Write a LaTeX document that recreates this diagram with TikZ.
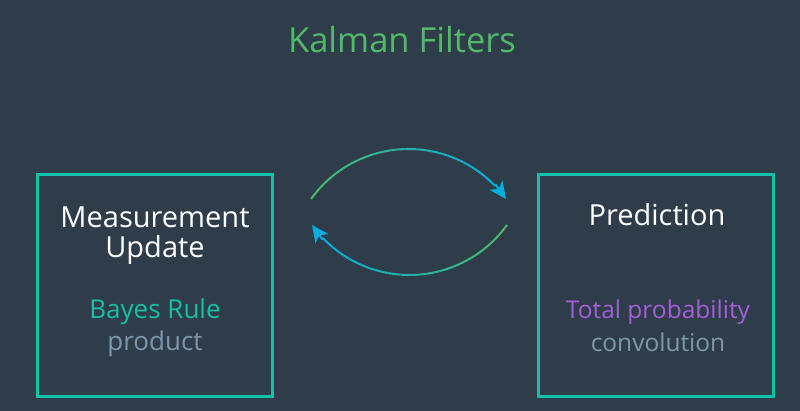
\documentclass[tikz,border=0pt]{standalone}
\usepackage{fontspec}
\setmainfont{Open Sans}
\usetikzlibrary{arrows.meta,calc}
\definecolor{bg}{HTML}{2E3D49}
\definecolor{boxteal}{HTML}{12C2A8}
\definecolor{titlegreen}{HTML}{52B86A}
\definecolor{arcgreen}{HTML}{4EBA68}
\definecolor{arcblue}{HTML}{05AEDF}
\definecolor{ruleteal}{HTML}{15C0A6}
\definecolor{rulepurple}{HTML}{A45EDB}
\definecolor{subgray}{HTML}{7D97AD}
\tikzset{
  box/.style={draw=boxteal, line width=3pt, minimum width=235pt, minimum height=222pt, inner sep=0pt},
  bigtext/.style={text=white, font=\fontsize{29}{35}\selectfont, anchor=base},
  midtext/.style={font=\fontsize{26}{31}\selectfont, anchor=base},
  midtextb/.style={font=\fontsize{24.5}{29}\selectfont, anchor=base},
  arcline/.style={line width=2pt},
  arrowtip/.style={line width=2pt, arcblue, -{Stealth[length=17pt,width=16pt,inset=4.5pt]}}
}
\begin{document}
\begin{tikzpicture}[x=1pt,y=-1pt]
\fill[bg] (0,0) rectangle (800,411);
\useasboundingbox (0,0) rectangle (800,411);

\node[text=titlegreen, font=\fontsize{34.5}{40}\selectfont, anchor=base] (title) at (402,53) {Kalman Filters};

\node[box] (mu) at (154.5,285.5) {};
\node[box] (pr) at (655.5,285.5) {};

\node[bigtext] (mu1) at (155,228) {Measurement};
\node[bigtext] (mu2) at (155,258) {Update};
\node[midtext, text=ruleteal] (bayes) at (155,319) {Bayes Rule};
\node[midtext, text=subgray] (prod) at (155,350) {product};

\node[bigtext] (pr1) at (657,226) {Prediction};
\node[midtextb, text=rulepurple] (tot) at (658,319) {Total probability};
\node[midtextb, text=subgray] (conv) at (658,352) {convolution};

% top arc: measurement -> prediction
\coordinate (t1e) at ({408.5+120*cos(35.7)},{269-120*sin(35.7)});
\coordinate (t1b) at ($(t1e)+(-10.5,-14.6)$);
\foreach \i in {0,...,47}{
  \pgfmathsetmacro\a{144.3-100.5*\i/48}
  \pgfmathsetmacro\b{144.3-100.5*(\i+1)/48}
  \pgfmathsetmacro\p{100*\i/47}
  \draw[arcline, color=arcblue!\p!arcgreen] ({408.5+120*cos(\a)},{269-120*sin(\a)}) -- ({408.5+120*cos(\b)},{269-120*sin(\b)});
}
\draw[arrowtip] (t1b) -- (t1e);

% bottom arc: prediction -> measurement
\coordinate (t2e) at ({409.5+120*cos(-144.3)},{155-120*sin(-144.3)});
\coordinate (t2b) at ($(t2e)+(10.5,14.6)$);
\foreach \i in {0,...,47}{
  \pgfmathsetmacro\a{-35.7-100.5*\i/48}
  \pgfmathsetmacro\b{-35.7-100.5*(\i+1)/48}
  \pgfmathsetmacro\p{100*\i/47}
  \draw[arcline, color=arcblue!\p!arcgreen] ({409.5+120*cos(\a)},{155-120*sin(\a)}) -- ({409.5+120*cos(\b)},{155-120*sin(\b)});
}
\draw[arrowtip] (t2b) -- (t2e);
\end{tikzpicture}
\end{document}
